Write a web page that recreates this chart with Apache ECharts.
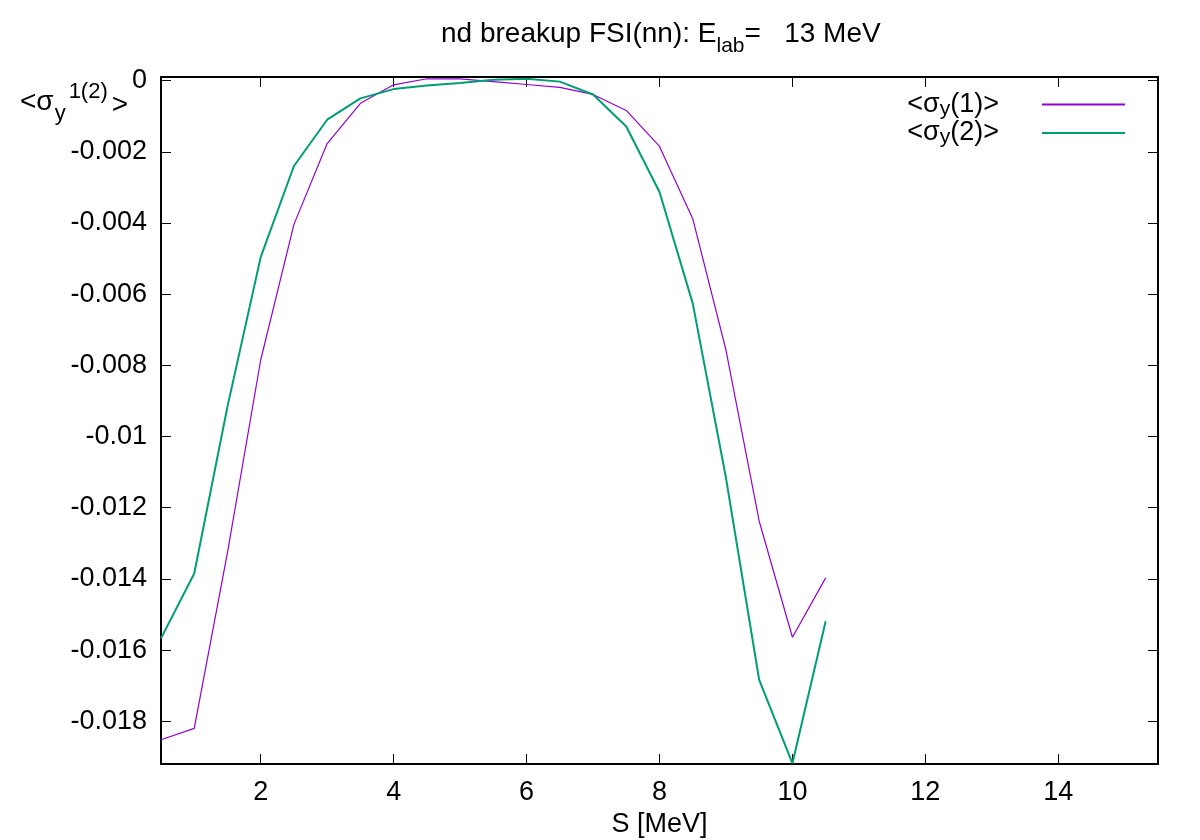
<!DOCTYPE html>
<html>
<head>
<meta charset="utf-8">
<title>nd breakup FSI(nn)</title>
<script src="https://cdn.jsdelivr.net/npm/echarts@6/dist/echarts.min.js"></script>
<style>
  html, body { margin: 0; padding: 0; background: #fff; }
  #chart { width: 1200px; height: 840px; }
</style>
</head>
<body>
<div id="chart"></div>
<script>
// S [MeV] grid of the two curves
const sValues = [0.5, 1, 1.5, 2, 2.5, 3, 3.5, 4, 4.5, 5, 5.5, 6, 6.5, 7, 7.5, 8, 8.5, 9, 9.5, 10, 10.5]

// <sigma_y(1)>
const sigma1 = [-0.01852, -0.0182, -0.01326, -0.00785, -0.00404, -0.00177, -0.00064, -0.00012, 0.00005, 0.00005,
  -0.00003, -0.00011, -0.00019, -0.00039, -0.00084, -0.00185, -0.00388, -0.00757, -0.01238, -0.01564, -0.01397]

// <sigma_y(2)>
const sigma2 = [-0.01567, -0.01385, -0.00916, -0.00496, -0.0024, -0.0011, -0.0005, -0.00024, -0.00014, -0.00007,
  0.00002, 0.00005, -0.00003, -0.00039, -0.00129, -0.00313, -0.00626, -0.01116, -0.01684, -0.01918, -0.01519]

// tick labels
const xTicks = [2, 4, 6, 8, 10, 12, 14]
const yTicks = [0, -0.002, -0.004, -0.006, -0.008, -0.01, -0.012, -0.014, -0.016, -0.018]

const FONT = '"Liberation Sans", Arial, Helvetica, sans-serif'
const xRange = [0.5, 15.5]
const yRange = [-0.0192, 0.0001]

const chart = echarts.init(document.getElementById('chart'))

function yLabel(v) {
  return String(parseFloat(v.toFixed(4)))
}

// axis shared bits
const frameLine = { show: true, onZero: false, lineStyle: { color: '#000', width: 2 } }
const tickStyle = { inside: true, length: 10, lineStyle: { color: '#000', width: 1 } }

const option = {
  backgroundColor: '#fff',
  animation: false,
  title: {
    text: 'nd breakup FSI(nn): E{sub|lab}=   13 MeV',
    left: 436,
    top: 7,
    textStyle: {
      fontFamily: FONT,
      fontSize: 28,
      fontWeight: 'normal',
      color: '#000',
      rich: {
        sub: { fontFamily: FONT, fontSize: 21, color: '#000', lineHeight: 45, verticalAlign: 'bottom' },
      },
    },
  },
  legend: {
    orient: 'vertical',
    right: 69,
    top: 86,
    align: 'right',
    itemWidth: 83,
    itemHeight: 14,
    itemGap: 0,
    itemStyle: { opacity: 0 },
    formatter: (name) => (name === 's1' ? '<σ{sub|y}(1)>' : '<σ{sub|y}(2)>'),
    textStyle: {
      fontFamily: FONT,
      fontSize: 27,
      color: '#000',
      padding: [0, 38, 0, 0],
      rich: {
        sub: { fontFamily: FONT, fontSize: 21, color: '#000', lineHeight: 30, verticalAlign: 'bottom' },
      },
    },
  },
  grid: { left: 161, right: 42, top: 77, bottom: 76, outerBoundsMode: 'none' },
  xAxis: [
    {
      type: 'value',
      min: xRange[0],
      max: xRange[1],
      name: 'S [MeV]',
      nameLocation: 'middle',
      nameGap: 45,
      nameTextStyle: { fontFamily: FONT, fontSize: 27, color: '#000' },
      axisLine: frameLine,
      axisTick: Object.assign({ customValues: xTicks }, tickStyle),
      axisLabel: { customValues: xTicks, margin: 15, fontFamily: FONT, fontSize: 27, color: '#000' },
      splitLine: { show: false },
    },
    {
      type: 'value',
      position: 'top',
      min: xRange[0],
      max: xRange[1],
      axisLine: frameLine,
      axisTick: Object.assign({ customValues: xTicks }, tickStyle),
      axisLabel: { show: false },
      splitLine: { show: false },
    },
  ],
  yAxis: [
    {
      type: 'value',
      min: yRange[0],
      max: yRange[1],
      axisLine: frameLine,
      axisTick: Object.assign({ customValues: yTicks }, tickStyle),
      axisLabel: {
        customValues: yTicks,
        formatter: yLabel,
        margin: 14,
        fontFamily: FONT,
        fontSize: 27,
        color: '#000',
      },
      splitLine: { show: false },
    },
    {
      type: 'value',
      position: 'right',
      min: yRange[0],
      max: yRange[1],
      axisLine: frameLine,
      axisTick: Object.assign({ customValues: yTicks }, tickStyle),
      axisLabel: { show: false },
      splitLine: { show: false },
    },
  ],
  graphic: [
    {
      type: 'text',
      left: 20,
      top: 81,
      style: {
        text: '{lt|<σ}{sub|y}{sup|1(2)}{gt|>}',
        fontFamily: FONT,
        fontSize: 27,
        fill: '#000',
        rich: {
          lt: { fontFamily: FONT, fontSize: 28, fill: '#000' },
          sub: { fontFamily: FONT, fontSize: 22, fill: '#000', padding: [24, 0, 0, 1] },
          sup: { fontFamily: FONT, fontSize: 22, fill: '#000', padding: [0, 0, 20, 3] },
          gt: { fontFamily: FONT, fontSize: 28, fill: '#000', padding: [6, 0, 0, 4] },
        },
      },
    },
  ],
  series: [
    {
      name: 's1',
      type: 'line',
      symbol: 'none',
      data: sValues.map((s, i) => [s, sigma1[i]]),
      lineStyle: { color: '#9400d3', width: 1.2 },
      itemStyle: { color: '#9400d3' },
    },
    {
      name: 's2',
      type: 'line',
      symbol: 'none',
      data: sValues.map((s, i) => [s, sigma2[i]]),
      lineStyle: { color: '#009e73', width: 2 },
      itemStyle: { color: '#009e73' },
    },
  ],
}

chart.setOption(option)
</script>
</body>
</html>
